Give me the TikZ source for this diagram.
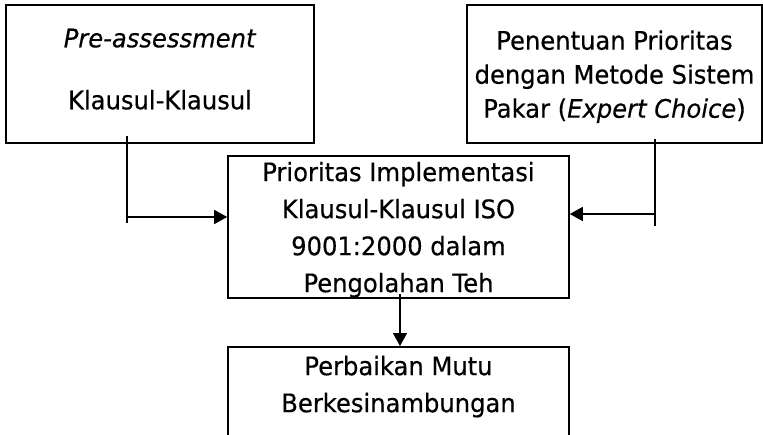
\documentclass[tikz,border=0pt]{standalone}
\usepackage{fontspec}
\setmainfont{DejaVu Sans}[FakeStretch=0.95,FakeBold=0.4]
\usetikzlibrary{arrows.meta}

\begin{document}
\begin{tikzpicture}[x=1pt,y=-1pt,line width=1.6pt,
	kotak/.style={draw,rectangle,align=center,inner sep=0pt},
	>={Triangle[length=13pt,width=14pt]}]
			\clip (0,0) rectangle (763,434);
			\node[kotak,minimum width=308pt,minimum height=138pt,text depth=10pt,font=\fontsize{25.5}{35}\selectfont] (pre)at(160,74) {\textit{Pre-assessment}\\[27pt]Klausul-Klausul};
			\node[kotak,minimum width=295pt,minimum height=138pt,text depth=0pt,font=\fontsize{25.5}{34}\selectfont] (expert)at(614.5,74) {Penentuan Prioritas\\dengan Metode Sistem\\Pakar (\textit{Expert Choice})};
			\node[kotak,minimum width=341pt,minimum height=142pt,text depth=0pt,font=\fontsize{25.5}{37}\selectfont] (prio)at(398.5,227) {Prioritas Implementasi\\Klausul-Klausul ISO\\9001:2000 dalam\\Pengolahan Teh};
			\node[kotak,anchor=north,minimum width=341pt,inner ysep=9pt,text depth=70pt,font=\fontsize{25.5}{37}\selectfont] (mutu)at(398.5,346) {Perbaikan Mutu\\Berkesinambungan};
			\coordinate (kiri)at(127,217);
			\coordinate (kanan)at(655,214);
			\draw ([yshift=8pt]pre.south -| kiri) -- ([yshift=-6pt]kiri);
			\draw[->] (kiri) -- (kiri -| prio.west);
			\draw ([yshift=5pt]expert.south -| kanan) -- ([yshift=-12pt]kanan);
			\draw[->] (kanan) -- (kanan -| prio.east);
			\draw[->] ([xshift=1.5pt,yshift=5pt]prio.south) -- ([xshift=1.5pt]mutu.north);
\end{tikzpicture}
\end{document}
